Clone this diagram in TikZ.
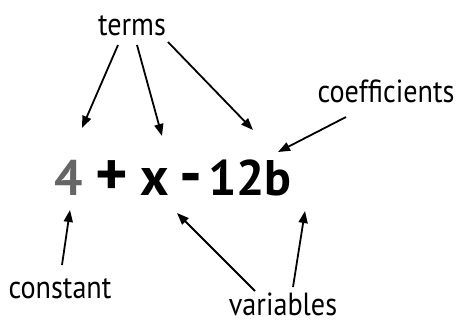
\documentclass[tikz,border=0pt]{standalone}
\usepackage{fontspec}
\setmainfont{PT Sans}
\newfontfamily\lblfont{PT Sans}[FakeStretch=0.88]
\usetikzlibrary{arrows.meta,calc}

\begin{document}
\begin{tikzpicture}[
    x=0.5pt, y=-0.5pt,
    lbl/.style={anchor=base, inner sep=0pt, font=\lblfont\fontsize{16}{18}\selectfont},
    term/.style={anchor=base, inner sep=0pt, font=\fontsize{25}{30}\selectfont\bfseries},
    arr/.style={-{Triangle[length=6pt,width=4.5pt]}, line width=0.9pt}
]
\useasboundingbox (0,0) rectangle (459,321);

% expression
\node[term, text=black!60] (four) at (69,195) {4};
\node[term, font=\fontsize{31}{34}\selectfont\bfseries] (plus) at (112,195) {+};
\node[term, font=\fontsize{27}{30}\selectfont\bfseries] (xvar) at (155,195) {x};
\node[term, font=\fontsize{32}{36}\selectfont\bfseries] (minus) at (191,195) {-};
\node[term] (twelveb) at (250,195) {12b};

% labels
\node[lbl] (terms) at (132,35) {terms};
\node[lbl] (coeff) at (386,102) {coefficients};
\node[lbl] (const) at (60,298) {constant};
\node[lbl] (vars) at (283,315) {variables};

\draw[arr] ($(terms.base)+(-14,10)$) -- ($(four.base)+(13,-67)$);
\draw[arr] ($(terms.base)+(5,10)$) -- ($(xvar.base)+(7,-59)$);
\draw[arr] ($(terms.base)+(36,7)$) -- ($(twelveb.base)+(3,-65)$);
\draw[arr] ($(coeff.base)+(-40,15)$) -- ($(twelveb.base)+(28,-43)$);
\draw[arr] ($(const.base)+(2,-33)$) -- ($(four.base)+(1,15)$);
\draw[arr] ($(vars.base)+(-28,-24)$) -- ($(xvar.base)+(22,18)$);
\draw[arr] ($(vars.base)+(10,-28)$) -- ($(twelveb.base)+(55,16)$);
\end{tikzpicture}
\end{document}
